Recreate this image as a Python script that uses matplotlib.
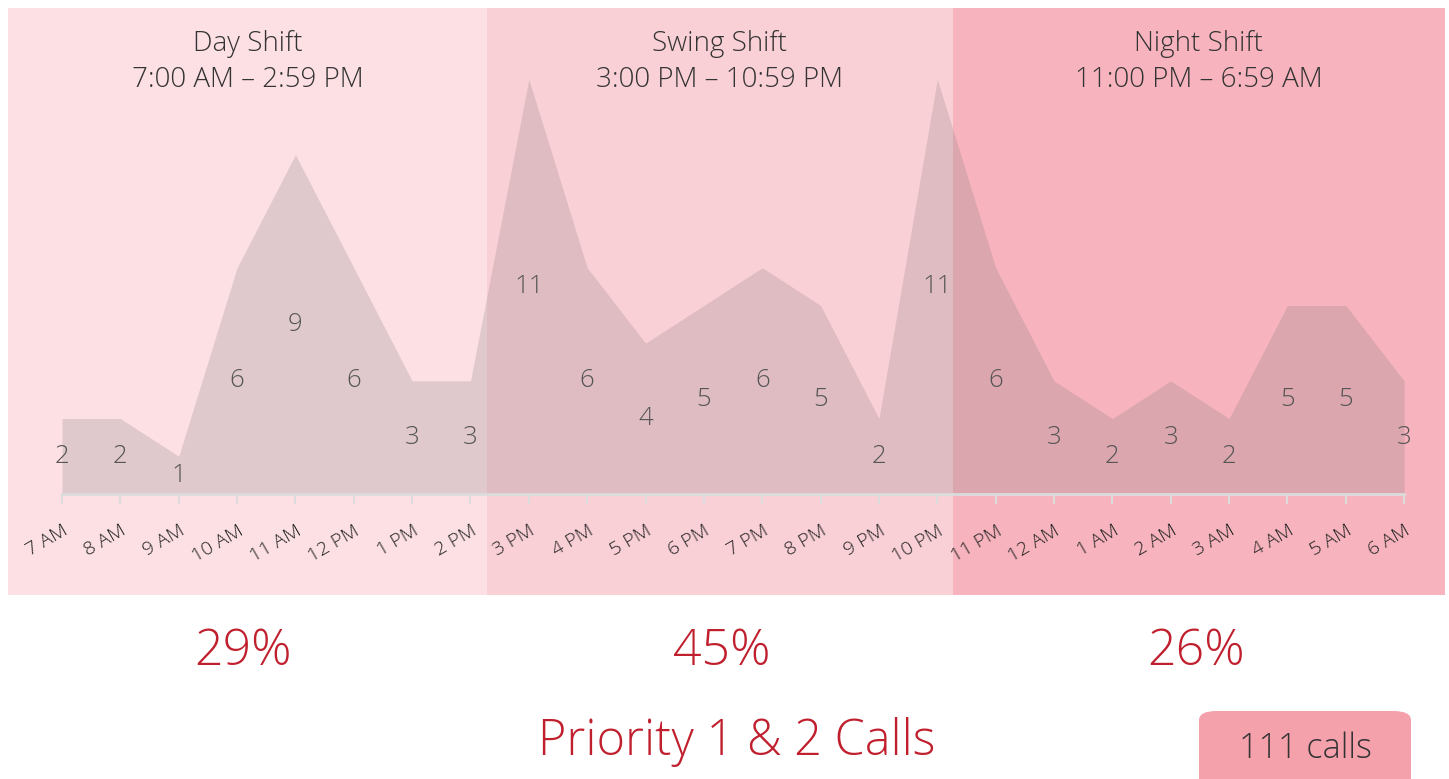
import matplotlib.pyplot as plt
from matplotlib.patches import FancyBboxPatch, Rectangle

hours = ['7 AM', '8 AM', '9 AM', '10 AM', '11 AM', '12 PM', '1 PM', '2 PM',
         '3 PM', '4 PM', '5 PM', '6 PM', '7 PM', '8 PM', '9 PM', '10 PM',
         '11 PM', '12 AM', '1 AM', '2 AM', '3 AM', '4 AM', '5 AM', '6 AM']
calls = [2, 2, 1, 6, 9, 6, 3, 3,
         11, 6, 4, 5, 6, 5, 2, 11,
         6, 3, 2, 3, 2, 5, 5, 3]
shift_names = ['Day Shift', 'Swing Shift', 'Night Shift']
shift_times = ['7:00 AM – 2:59 PM', '3:00 PM – 10:59 PM', '11:00 PM – 6:59 AM']
shift_colors = ['#fde0e4', '#fad0d7', '#f7b4be']

plt.rcParams['font.family'] = ['Open Sans', 'DejaVu Sans']
plt.rcParams['font.weight'] = 'light'

W, H = 1449, 779
fig = plt.figure(figsize=(W / 100, H / 100), dpi=100)
ax = fig.add_axes([8 / W, 1 - 595 / H, (1445 - 8) / W, (595 - 8) / H])

x = list(range(len(calls)))
ax.set_xlim(-0.9255, 23.70)
ax.set_ylim(-2.68, 12.89)

# shift bands (axes fraction)
edges = [0, 479 / 1437, 945 / 1437, 1]
for i in range(3):
    ax.add_patch(Rectangle((edges[i], 0), edges[i + 1] - edges[i], 1,
                           transform=ax.transAxes, color=shift_colors[i], lw=0, zorder=0))
    cx = (edges[i] + edges[i + 1]) / 2
    ax.text(cx, 1 - 54 / 587, shift_names[i] + '\n' + shift_times[i], transform=ax.transAxes,
            ha='center', va='center', fontsize=20, color='#333333', linespacing=1.35)

ax.fill_between(x, calls, 0, color='#6e6e6e', alpha=0.2, lw=0, zorder=2)

for xi, v in zip(x, calls):
    ax.text(xi, v / 2, str(v), ha='center', va='center', fontsize=18.5,
            color='#555555', zorder=3)

for s in ['top', 'right', 'left']:
    ax.spines[s].set_visible(False)
ax.spines['bottom'].set_position(('data', 0))
ax.spines['bottom'].set_bounds(0, 23)
ax.spines['bottom'].set_color('#dcdcdc')
ax.spines['bottom'].set_linewidth(2)
ax.set_yticks([])
ax.set_xticks(x)
ax.set_xticklabels(hours, rotation=30, ha='right', rotation_mode='anchor',
                   fontsize=14, color='#222222')
ax.tick_params(axis='x', length=7, width=1.5, color='#dcdcdc', pad=13)

# shift percentages
total = sum(calls)
pct_x = [243 / W, 722 / W, 1196 / W]
for i in range(3):
    share = sum(calls[i * 8:(i + 1) * 8]) / total * 100
    fig.text(pct_x[i], 1 - 652 / H, f'{share:.0f}%', ha='center', va='center',
             fontsize=36, color='#c0202e')

fig.text(737 / W, 1 - 742 / H, 'Priority 1 & 2 Calls', ha='center', va='center',
         fontsize=35, color='#c0202e')

box = FancyBboxPatch((1199 / W, -0.02), 212 / W, (779 - 711) / H + 0.02,
                     boxstyle='round,pad=0,rounding_size=0.012',
                     transform=fig.transFigure, fc='#f4a1ab', ec='none')
fig.patches.append(box)
fig.text(1305 / W, 1 - 749 / H, f'{total} calls', ha='center', va='center',
         fontsize=24.5, color='#333333')

fig.savefig('out.png', dpi=100, facecolor='white')
